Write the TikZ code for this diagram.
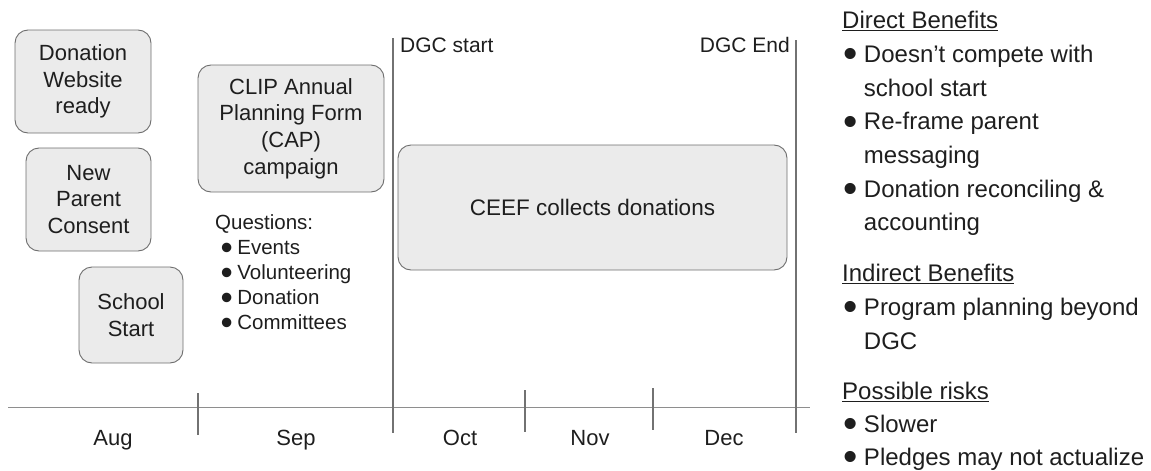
\documentclass[tikz,border=0pt]{standalone}
\usepackage{fontspec}
\setmainfont{Liberation Sans}
\usepackage{array}
\usepackage{graphicx}

\definecolor{boxfill}{HTML}{EBEBEB}
\definecolor{boxline}{HTML}{6E6E6E}
\definecolor{axisgray}{HTML}{8E8E8E}
\definecolor{ink}{HTML}{1E1E1E}

% a bigger list bullet
\newcommand\bul{\raisebox{-0.22em}{\scalebox{1.7}{\textbullet}}}

\begin{document}
\begin{tikzpicture}[x=1pt,y=-1pt,
  evbox/.style={draw=boxline,fill=boxfill,rounded corners=13pt,line width=0.9pt,
    align=center,inner sep=0pt,text=ink,font=\fontsize{22}{26.7}\selectfont},
  vline/.style={draw=axisgray!80!black,line width=1.2pt},
  axis/.style={draw=axisgray,line width=1.8pt},
  tick/.style={draw=axisgray!80!black,line width=1.2pt},
  month/.style={anchor=base,inner sep=0pt,text=ink,font=\fontsize{22}{26}\selectfont},
  dgc/.style={inner sep=0pt,text=ink,font=\fontsize{21}{25}\selectfont},
  notes/.style={anchor=north west,inner sep=0pt,text=ink}]
\useasboundingbox (0,0) rectangle (1151,471);

% the timeline
\coordinate (t start) at (8,407.5);
\coordinate (t end) at (810,407.5);
\draw[axis] (t start) -- (t end);
% short ticks between the months
\foreach \x/\top/\bot in {198/393/435,525/390/432,653/388/430}
{
  \draw[tick] (\x,\top) -- (\x,\bot);
}
% the DGC lines reach down through the timeline
\coordinate (dgc start) at (393,38);
\coordinate (dgc end) at (796,40);
\draw[vline] (dgc start) -- (dgc start|-0,433);
\draw[vline] (dgc end) -- (dgc end|-0,433);
\node[dgc,anchor=base west] (dgc s) at (400,52.5) {DGC start};
\node[dgc,anchor=base east] (dgc e) at (790,52.5) {DGC End};
% month labels
\foreach \x/\m in {113/Aug,296/Sep,460/Oct,590/Nov,724/Dec}
{
  \node[month] (m-\m) at (\x,445) {\m};
}

% events before DGC
\node[evbox,minimum width=136pt,minimum height=103pt] (website) at (83,81.5)
  {Donation\\Website\\ready};
\node[evbox,minimum width=125pt,minimum height=103pt] (consent) at (88.5,199.5)
  {New\\Parent\\Consent};
\node[evbox,minimum width=104pt,minimum height=96pt] (school) at (131,315)
  {School\\Start};
\node[evbox,minimum width=186pt,minimum height=127pt] (cap) at (291,128.5)
  {CLIP Annual\\Planning Form\\(CAP)\\campaign};
% the CAP questions
\node[notes,font=\fontsize{20.5}{25}\selectfont] (questions) at (215,212)
  {\begin{tabular}{@{\hspace{5.5pt}}l@{\hspace{4.5pt}}l@{}}
   \multicolumn{2}{@{}l}{Questions:}\\
   \bul & Events\\
   \bul & Volunteering\\
   \bul & Donation\\
   \bul & Committees
   \end{tabular}};

% the DGC window
\node[evbox,minimum width=389pt,minimum height=125pt,font=\fontsize{22.5}{27}\selectfont]
  (ceef) at (592.5,207.5) {CEEF collects donations};

% benefits and risks
\node[notes,font=\fontsize{24}{33.7}\selectfont] (direct) at (842,4.9)
  {\begin{tabular}{@{\hspace{1.5pt}}l@{\hspace{6pt}}l@{}}
   \multicolumn{2}{@{}l}{\underline{Direct Benefits}}\\
   \bul & Doesn’t compete with\\
        & school start\\
   \bul & Re-frame parent\\
        & messaging\\
   \bul & Donation reconciling \&\\
        & accounting
   \end{tabular}};
\node[notes,font=\fontsize{24}{33.7}\selectfont] (indirect) at (842,257.9)
  {\begin{tabular}{@{\hspace{1.5pt}}l@{\hspace{6pt}}l@{}}
   \multicolumn{2}{@{}l}{\underline{Indirect Benefits}}\\
   \bul & Program planning beyond\\
        & DGC
   \end{tabular}};
\node[notes,font=\fontsize{24}{33}\selectfont] (risks) at (842,376)
  {\begin{tabular}{@{\hspace{1.5pt}}l@{\hspace{6pt}}l@{}}
   \multicolumn{2}{@{}l}{\underline{Possible risks}}\\
   \bul & Slower\\
   \bul & Pledges may not actualize
   \end{tabular}};
\end{tikzpicture}
\end{document}
